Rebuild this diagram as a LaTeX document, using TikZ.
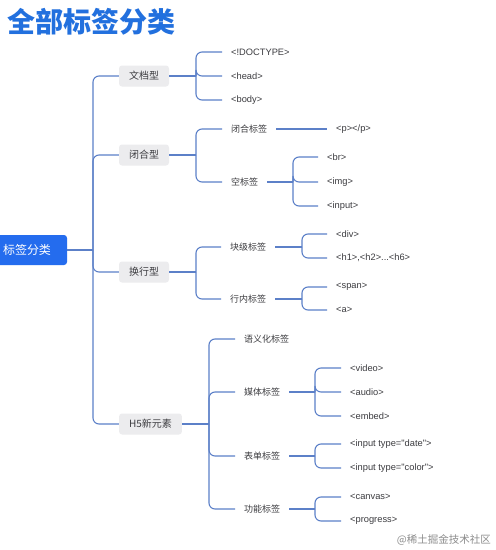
\documentclass[tikz,border=0pt]{standalone}
\usepackage{fontspec}
\setmainfont{Noto Sans CJK SC}
\newfontfamily\latinfont{Liberation Sans}
\definecolor{conncol}{RGB}{92,128,200}
\definecolor{titleblue}{RGB}{34,112,222}
\definecolor{rootblue}{RGB}{36,108,238}
\definecolor{boxgray}{RGB}{236,236,238}
\definecolor{txtgray}{RGB}{60,60,64}
\tikzset{
  conn/.style={draw=conncol, line width=1.1pt, rounded corners=6pt},
  lvlbox/.style={fill=boxgray, rounded corners=3pt, text=txtgray, font=\fontsize{10}{12}\selectfont, inner xsep=10pt, minimum height=21pt, inner ysep=0pt},
  leaf/.style={anchor=west, text=txtgray, font=\fontsize{9}{11}\selectfont, inner xsep=9pt, inner ysep=1pt},
  tagleaf/.style={leaf, font=\latinfont\fontsize{9.3}{11}\selectfont},
  rootbox/.style={fill=rootblue, rounded corners=3pt, text=white, font=\fontsize{12}{14}\selectfont, inner xsep=16pt, minimum height=30pt, inner ysep=0pt},
}
\begin{document}
\begin{tikzpicture}[x=1pt,y=-1pt]
\useasboundingbox (0,0) rectangle (496,550);
\fill[white] (0,0) rectangle (496,550);
% title
\node[anchor=west, text=titleblue, font=\fontsize{28}{32}\selectfont\bfseries, inner sep=0pt] (title) at (7,22) {全部标签分类};
% root
\node[rootbox] (root) at (27,250) {标签分类};
% level 1
\node[lvlbox] (wd) at (144,76) {文档型};
\node[lvlbox] (bh) at (144,155) {闭合型};
\node[lvlbox] (hh) at (144,272) {换行型};
\node[lvlbox] (h5) at (150.5,424) {H5新元素};
% trunk
\draw[conn] (root.east) -- (93,250) coordinate (jr);
\foreach \n in {wd,bh,hh,h5} \draw[conn] (jr) |- (\n.west);
% 文档型
\node[tagleaf] (doctype) at (222,52) {<!DOCTYPE>};
\node[tagleaf] (head) at (222,76) {<head>};
\node[tagleaf] (body) at (222,100) {<body>};
\draw[conn] (wd.east) -- (196,76) coordinate (jwd);
\foreach \n in {doctype,head,body} \draw[conn] (jwd) |- (\n.west);
% 闭合型
\node[leaf] (bhbq) at (222,129) {闭合标签};
\node[leaf] (kbq) at (222,182) {空标签};
\draw[conn] (bh.east) -- (196,155) coordinate (jbh);
\foreach \n in {bhbq,kbq} \draw[conn] (jbh) |- (\n.west);
\node[tagleaf] (pp) at (327,129) {<p></p>};
\draw[conn] (bhbq.east) -- (pp.west);
\node[tagleaf] (br) at (318,157) {<br>};
\node[tagleaf] (img) at (318,182) {<img>};
\node[tagleaf] (input) at (318,206) {<input>};
\draw[conn] (kbq.east) -- (293,182) coordinate (jkb);
\foreach \n in {br,img,input} \draw[conn] (jkb) |- (\n.west);
% 换行型
\node[leaf] (kj) at (221,247) {块级标签};
\node[leaf] (hn) at (221,299) {行内标签};
\draw[conn] (hh.east) -- (196,272) coordinate (jhh);
\foreach \n in {kj,hn} \draw[conn] (jhh) |- (\n.west);
\node[tagleaf] (div) at (327,234) {<div>};
\node[tagleaf] (hx) at (327,258) {<h1>,<h2>...<h6>};
\draw[conn] (kj.east) -- (302,247) coordinate (jkj);
\foreach \n in {div,hx} \draw[conn] (jkj) |- (\n.west);
\node[tagleaf] (span) at (327,287) {<span>};
\node[tagleaf] (a) at (327,310) {<a>};
\draw[conn] (hn.east) -- (302,299) coordinate (jhn);
\foreach \n in {span,a} \draw[conn] (jhn) |- (\n.west);
% H5
\node[leaf] (yy) at (235,339) {语义化标签};
\node[leaf] (mt) at (235,392) {媒体标签};
\node[leaf] (bd) at (235,456) {表单标签};
\node[leaf] (gn) at (235,509) {功能标签};
\draw[conn] (h5.east) -- (209,424) coordinate (jh5);
\foreach \n in {yy,mt,bd,gn} \draw[conn] (jh5) |- (\n.west);
\node[tagleaf] (video) at (341,368) {<video>};
\node[tagleaf] (audio) at (341,392) {<audio>};
\node[tagleaf] (embed) at (341,416) {<embed>};
\draw[conn] (mt.east) -- (315,392) coordinate (jmt);
\foreach \n in {video,audio,embed} \draw[conn] (jmt) |- (\n.west);
\node[tagleaf] (idate) at (341,444) {<input type="date">};
\node[tagleaf] (icolor) at (341,468) {<input type="color">};
\draw[conn] (bd.east) -- (315,456) coordinate (jbd);
\foreach \n in {idate,icolor} \draw[conn] (jbd) |- (\n.west);
\node[tagleaf] (canvas) at (341,497) {<canvas>};
\node[tagleaf] (progress) at (341,521) {<progress>};
\draw[conn] (gn.east) -- (315,509) coordinate (jgn);
\foreach \n in {canvas,progress} \draw[conn] (jgn) |- (\n.west);
% watermark
\node[anchor=east, text=black!45, font=\fontsize{10.5}{12}\selectfont, inner sep=0pt] (wm) at (491,540) {@稀土掘金技术社区};
\end{tikzpicture}
\end{document}
